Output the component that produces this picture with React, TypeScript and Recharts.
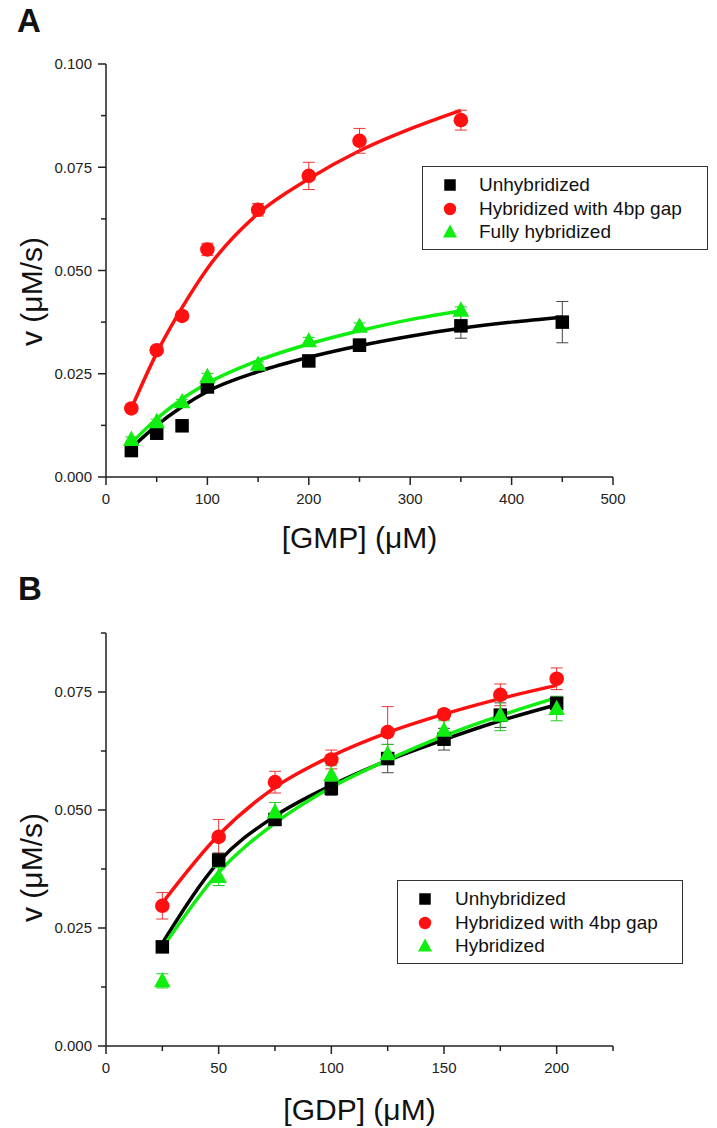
import React from "react";
import { ComposedChart, Line, Scatter, XAxis, YAxis, ErrorBar, Legend } from "recharts";

const FONT = '"Liberation Sans", Arial, Helvetica, sans-serif';
const AXIS = "#222222";
const RED = "#ff1010";
const GREEN = "#10ee10";
const BLACK = "#000000";

// ---- panel A: GMP ----
const gmpXTicks = [0, 50, 100, 150, 200, 250, 300, 350, 400, 450, 500];
const gmpYTicks = [0, 0.0125, 0.025, 0.0375, 0.05, 0.0625, 0.075, 0.0875, 0.1];

const gmpUnhybConc = [25, 50, 75, 100, 200, 250, 350, 450];
const gmpUnhybV = [0.0064, 0.0106, 0.0124, 0.0218, 0.0281, 0.0319, 0.0366, 0.0375];
const gmpUnhybErr = [0.0005, 0.0008, 0.0005, 0.0008, 0.0008, 0.0015, 0.003, 0.005];

const gmpGapConc = [25, 50, 75, 100, 150, 200, 250, 350];
const gmpGapV = [0.0166, 0.0307, 0.039, 0.0551, 0.0647, 0.0729, 0.0814, 0.0864];
const gmpGapErr = [0.0008, 0.0008, 0.001, 0.0015, 0.0015, 0.0033, 0.003, 0.0024];

const gmpFullConc = [25, 50, 75, 100, 150, 200, 250, 350];
const gmpFullV = [0.0091, 0.0134, 0.0182, 0.0243, 0.0273, 0.033, 0.0365, 0.0404];
const gmpFullErr = [0.0006, 0.0006, 0.0006, 0.0008, 0.0006, 0.0008, 0.0008, 0.0008];

const gmpFitConc = [25, 50, 75, 100, 150, 200, 250, 300, 350, 400, 450];
const gmpUnhybFit = [0.007, 0.0125, 0.017, 0.0207, 0.0255, 0.029, 0.0318, 0.0341, 0.036, 0.0375, 0.0387];
const gmpGapFit = [0.0166, 0.030, 0.041, 0.0505, 0.0638, 0.0722, 0.079, 0.0843, 0.0888];
const gmpFullFit = [0.0082, 0.0141, 0.0189, 0.0227, 0.0282, 0.0322, 0.0354, 0.0381, 0.0402];

// ---- panel B: GDP ----
const gdpXTicks = [0, 25, 50, 75, 100, 125, 150, 175, 200, 225];
const gdpYTicks = [0, 0.0125, 0.025, 0.0375, 0.05, 0.0625, 0.075, 0.0875];

const gdpConc = [25, 50, 75, 100, 125, 150, 175, 200];
const gdpUnhybV = [0.021, 0.0394, 0.048, 0.0546, 0.0609, 0.065, 0.0701, 0.0726];
const gdpUnhybErr = [0.0008, 0.0015, 0.0012, 0.0015, 0.003, 0.0023, 0.0026, 0.0012];
const gdpGapV = [0.0297, 0.0443, 0.0559, 0.0607, 0.0665, 0.0703, 0.0744, 0.0778];
const gdpGapErr = [0.0028, 0.0037, 0.0023, 0.002, 0.0054, 0.001, 0.0023, 0.0023];
const gdpHybV = [0.0138, 0.0359, 0.0496, 0.0574, 0.0619, 0.0669, 0.0701, 0.0715];
const gdpHybErr = [0.0015, 0.0019, 0.002, 0.002, 0.002, 0.002, 0.0033, 0.0026];

const gdpUnhybFit = [0.0218, 0.039, 0.0487, 0.0552, 0.0605, 0.0649, 0.0689, 0.0723];
const gdpGapFit = [0.0303, 0.0447, 0.0548, 0.0614, 0.0664, 0.0703, 0.0736, 0.0764];
const gdpHybFit = [0.0208, 0.0368, 0.0472, 0.0548, 0.0606, 0.0657, 0.07, 0.0738];

type Shape = "square" | "circle" | "triangle";

interface Series {
  name: string;
  color: string;
  errColor: string;
  shape: Shape;
  points: { x: number; v: number; err: number }[];
  fit: { x: number; v: number }[];
}

const pts = (xs: number[], vs: number[], errs: number[]) =>
  xs.map((x, i) => ({ x, v: vs[i], err: errs[i] }));
const curve = (xs: number[], vs: number[]) => vs.map((v, i) => ({ x: xs[i], v }));

const seriesA: Series[] = [
  { name: "Unhybridized", color: BLACK, errColor: "#444", shape: "square", points: pts(gmpUnhybConc, gmpUnhybV, gmpUnhybErr), fit: curve(gmpFitConc, gmpUnhybFit) },
  { name: "Hybridized with 4bp gap", color: RED, errColor: "#e33", shape: "circle", points: pts(gmpGapConc, gmpGapV, gmpGapErr), fit: curve(gmpFitConc, gmpGapFit) },
  { name: "Fully hybridized", color: GREEN, errColor: "#2c2", shape: "triangle", points: pts(gmpFullConc, gmpFullV, gmpFullErr), fit: curve(gmpFitConc, gmpFullFit) },
];

const seriesB: Series[] = [
  { name: "Unhybridized", color: BLACK, errColor: "#444", shape: "square", points: pts(gdpConc, gdpUnhybV, gdpUnhybErr), fit: curve(gdpConc, gdpUnhybFit) },
  { name: "Hybridized with 4bp gap", color: RED, errColor: "#e33", shape: "circle", points: pts(gdpConc, gdpGapV, gdpGapErr), fit: curve(gdpConc, gdpGapFit) },
  { name: "Hybridized", color: GREEN, errColor: "#2c2", shape: "triangle", points: pts(gdpConc, gdpHybV, gdpHybErr), fit: curve(gdpConc, gdpHybFit) },
];

const isMultiple = (v: number, step: number) => Math.abs(v / step - Math.round(v / step)) < 1e-6;

function Marker({ kind, cx, cy, color, scale = 1 }: { kind: Shape; cx: number; cy: number; color: string; scale?: number }) {
  if (kind === "square") {
    const s = 13.5 * scale;
    return <rect x={cx - s / 2} y={cy - s / 2} width={s} height={s} fill={color} />;
  }
  if (kind === "circle") return <circle cx={cx} cy={cy} r={7.3 * scale} fill={color} />;
  const w = 8.3 * scale;
  return (
    <polygon
      points={`${cx},${cy - 8.8 * scale} ${cx - w},${cy + 6.5 * scale} ${cx + w},${cy + 6.5 * scale}`}
      fill={color}
    />
  );
}

const makeXTick = (step: number) => (props: any) => {
  const { x, y, payload } = props;
  const major = isMultiple(payload.value, step);
  return (
    <g>
      <line x1={x} x2={x} y1={y} y2={y + (major ? 8 : 5)} stroke={AXIS} strokeWidth={1.5} />
      {major && (
        <text x={x} y={y + 16} dy="0.71em" textAnchor="middle" fontSize={15} fill="#222" fontFamily={FONT}>
          {payload.value}
        </text>
      )}
    </g>
  );
};

const makeYTick = (step: number) => (props: any) => {
  const { x, y, payload } = props;
  const major = isMultiple(payload.value, step);
  return (
    <g>
      <line x1={x} x2={x - (major ? 8 : 5)} y1={y} y2={y} stroke={AXIS} strokeWidth={1.5} />
      {major && (
        <text x={x - 14} y={y} dy="0.35em" textAnchor="end" fontSize={15} fill="#222" fontFamily={FONT}>
          {payload.value.toFixed(3)}
        </text>
      )}
    </g>
  );
};

function LegendBox({ series, markerX, textX }: { series: Series[]; markerX: number; textX: number }) {
  return (
    <div
      style={{
        boxSizing: "border-box",
        width: 286,
        height: 84,
        border: "1.5px solid #333",
        background: "#fff",
        fontFamily: FONT,
        fontSize: 19,
        color: "#111",
        paddingTop: 6,
      }}
    >
      {series.map((s) => (
        <div key={s.name} style={{ position: "relative", height: 23.5, lineHeight: "23.5px" }}>
          <svg width={18} height={18} style={{ position: "absolute", left: markerX - 9, top: 3 }}>
            <Marker kind={s.shape} cx={9} cy={9} color={s.color} scale={0.85} />
          </svg>
          <span style={{ position: "absolute", left: textX, top: 0, whiteSpace: "nowrap" }}>{s.name}</span>
        </div>
      ))}
    </div>
  );
}

interface PanelProps {
  top: number;
  height: number;
  series: Series[];
  xTicks: number[];
  yTicks: number[];
  xMajor: number;
  xTitle: string;
  xAxisHeight: number;
  xTitleOffset: number;
  yLabelDy: number;
  legendLeft: number;
  legendTop: number;
  legendMarkerX: number;
  legendTextX: number;
}

function Panel(p: PanelProps) {
  const xMax = p.xTicks[p.xTicks.length - 1];
  const yMax = p.yTicks[p.yTicks.length - 1];
  return (
    <div style={{ position: "absolute", left: 0, top: p.top, width: 717, height: p.height }}>
      <ComposedChart
        width={717}
        height={p.height}
        margin={{ top: 64, right: 104, bottom: 0, left: 0 }}
      >
        <XAxis
          dataKey="x"
          type="number"
          domain={[0, xMax]}
          ticks={p.xTicks}
          interval={0}
          allowDataOverflow
          height={p.xAxisHeight}
          axisLine={{ stroke: AXIS, strokeWidth: 1.5 }}
          tickLine={false}
          tickSize={0}
          tickMargin={0}
          tick={makeXTick(p.xMajor)}
          label={{
            value: p.xTitle,
            position: "insideBottom",
            offset: p.xTitleOffset,
            fontSize: 30,
            fill: "#111",
            fontFamily: FONT,
          }}
        />
        <YAxis
          dataKey="v"
          type="number"
          domain={[0, yMax]}
          ticks={p.yTicks}
          interval={0}
          allowDataOverflow
          width={106}
          axisLine={{ stroke: AXIS, strokeWidth: 1.5 }}
          tickLine={false}
          tickSize={0}
          tickMargin={0}
          tick={makeYTick(0.025)}
          label={{
            value: "v (μM/s)",
            angle: -90,
            position: "center",
            dx: -22,
            dy: p.yLabelDy,
            fontSize: 30,
            fill: "#111",
            fontFamily: FONT,
          }}
        />
        {p.series.map((s) => (
          <Line
            key={`fit-${s.name}`}
            data={s.fit}
            dataKey="v"
            type="monotone"
            stroke={s.color}
            strokeWidth={3.5}
            dot={false}
            activeDot={false}
            isAnimationActive={false}
          />
        ))}
        {p.series.map((s) => (
          <Scatter
            key={`pts-${s.name}`}
            name={s.name}
            data={s.points}
            dataKey="v"
            fill={s.color}
            isAnimationActive={false}
            shape={(sp: any) => <Marker kind={s.shape} cx={sp.cx} cy={sp.cy} color={s.color} />}
          >
            <ErrorBar dataKey="err" direction="y" width={6} stroke={s.errColor} strokeWidth={1} />
          </Scatter>
        ))}
        <Legend
          layout="vertical"
          align="center"
          verticalAlign="middle"
          wrapperStyle={{ left: p.legendLeft, top: p.legendTop, width: 286, height: 84 }}
          content={() => <LegendBox series={p.series} markerX={p.legendMarkerX} textX={p.legendTextX} />}
        />
      </ComposedChart>
    </div>
  );
}

export default function App() {
  return (
    <div style={{ position: "absolute", left: 0, top: 0, width: 717, height: 1128, background: "#fff", overflow: "hidden" }}>
      <Panel
        top={0}
        height={560}
        series={seriesA}
        xTicks={gmpXTicks}
        yTicks={gmpYTicks}
        xMajor={100}
        xTitle="[GMP] (μM)"
        xAxisHeight={83}
        xTitleOffset={12}
        yLabelDy={21}
        legendLeft={422}
        legendTop={166}
        legendMarkerX={27}
        legendTextX={56}
      />
      <Panel
        top={569}
        height={559}
        series={seriesB}
        xTicks={gdpXTicks}
        yTicks={gdpYTicks}
        xMajor={50}
        xTitle="[GDP] (μM)"
        xAxisHeight={82}
        xTitleOffset={8}
        yLabelDy={28}
        legendLeft={397}
        legendTop={311}
        legendMarkerX={27}
        legendTextX={57}
      />
      <div style={{ position: "absolute", left: 17, top: 4, fontFamily: FONT, fontWeight: "bold", fontSize: 33, lineHeight: "33px", color: "#111" }}>A</div>
      <div style={{ position: "absolute", left: 18, top: 572, fontFamily: FONT, fontWeight: "bold", fontSize: 33, lineHeight: "33px", color: "#111" }}>B</div>
    </div>
  );
}
